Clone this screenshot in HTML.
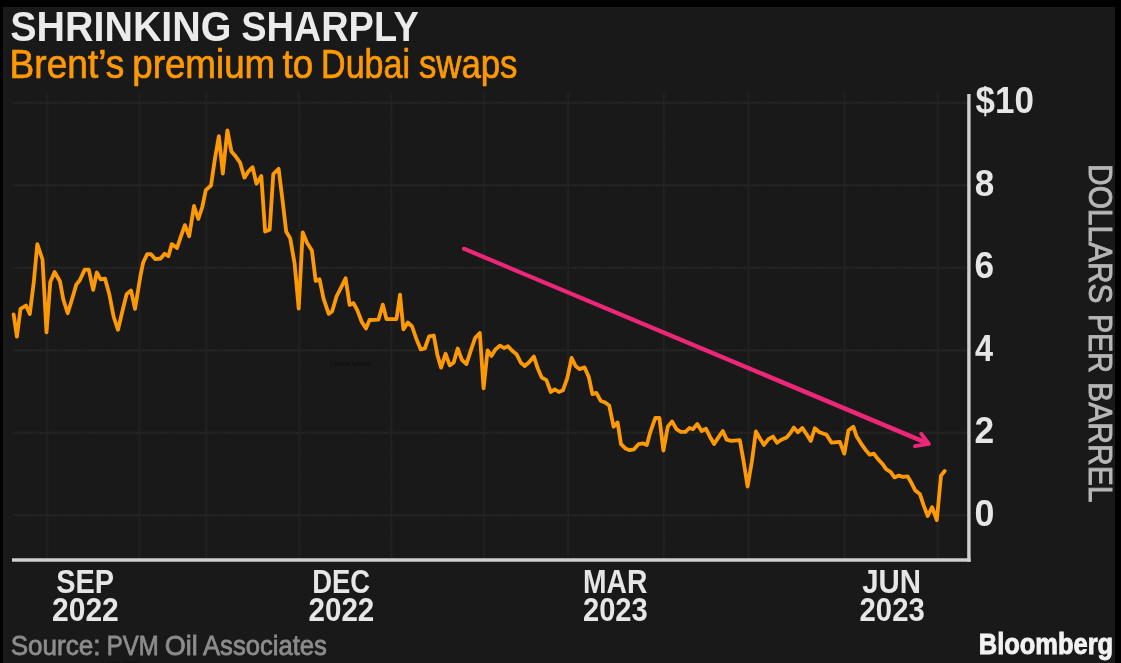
<!DOCTYPE html>
<html lang="en">
<head>
<meta charset="utf-8">
<title>Shrinking Sharply</title>
<style>
html,body{margin:0;padding:0;background:#000;}
body{width:1121px;height:663px;overflow:hidden;position:relative;}
svg{display:block;position:absolute;left:0;top:0;}
text{font-family:"Liberation Sans",sans-serif;}
.gd .v{stroke:#232323;}
.gd .h{stroke:#282828;}
</style>
</head>
<body>
<svg width="1121" height="663" viewBox="0 0 1121 663">
<g>
<rect x="0" y="0" width="1121" height="663" fill="#000"/>
<rect x="3" y="7" width="1112" height="656" fill="#191919"/>
<g fill="none" stroke="#1e1e1e" stroke-width="3">
<line class="v" x1="47" y1="92.5" x2="47" y2="559"/>
<line class="v" x1="139.3" y1="92.5" x2="139.3" y2="559"/>
<line class="v" x1="206.3" y1="92.5" x2="206.3" y2="559"/>
<line class="v" x1="299.2" y1="92.5" x2="299.2" y2="559"/>
<line class="v" x1="391.3" y1="92.5" x2="391.3" y2="559"/>
<line class="v" x1="484" y1="92.5" x2="484" y2="559"/>
<line class="v" x1="568" y1="92.5" x2="568" y2="559"/>
<line class="v" x1="663.8" y1="92.5" x2="663.8" y2="559"/>
<line class="v" x1="748.5" y1="92.5" x2="748.5" y2="559"/>
<line class="v" x1="844.5" y1="92.5" x2="844.5" y2="559"/>
<line class="v" x1="937.7" y1="92.5" x2="937.7" y2="559"/>
<line class="h" x1="13" y1="515.3" x2="968" y2="515.3"/>
<line class="h" x1="13" y1="432.8" x2="968" y2="432.8"/>
<line class="h" x1="13" y1="350.3" x2="968" y2="350.3"/>
<line class="h" x1="13" y1="267.8" x2="968" y2="267.8"/>
<line class="h" x1="13" y1="185.3" x2="968" y2="185.3"/>
<line class="h" x1="13" y1="102.8" x2="968" y2="102.8"/>
</g>
<g fill="none" stroke-width="1.3" stroke-dasharray="2.2 1.2" class="gd">
<line class="v" x1="47" y1="92.5" x2="47" y2="559"/>
<line class="v" x1="139.3" y1="92.5" x2="139.3" y2="559"/>
<line class="v" x1="206.3" y1="92.5" x2="206.3" y2="559"/>
<line class="v" x1="299.2" y1="92.5" x2="299.2" y2="559"/>
<line class="v" x1="391.3" y1="92.5" x2="391.3" y2="559"/>
<line class="v" x1="484" y1="92.5" x2="484" y2="559"/>
<line class="v" x1="568" y1="92.5" x2="568" y2="559"/>
<line class="v" x1="663.8" y1="92.5" x2="663.8" y2="559"/>
<line class="v" x1="748.5" y1="92.5" x2="748.5" y2="559"/>
<line class="v" x1="844.5" y1="92.5" x2="844.5" y2="559"/>
<line class="v" x1="937.7" y1="92.5" x2="937.7" y2="559"/>
<line class="h" x1="13" y1="515.3" x2="968" y2="515.3"/>
<line class="h" x1="13" y1="432.8" x2="968" y2="432.8"/>
<line class="h" x1="13" y1="350.3" x2="968" y2="350.3"/>
<line class="h" x1="13" y1="267.8" x2="968" y2="267.8"/>
<line class="h" x1="13" y1="185.3" x2="968" y2="185.3"/>
<line class="h" x1="13" y1="102.8" x2="968" y2="102.8"/>
</g>
<polyline points="13.6,314.3 16.9,336.7 20.5,308.9 26.0,305.5 29.8,314.1 33.8,282.0 37.3,244.2 42.5,259.5 46.5,332.4 50.3,282.0 54.6,272.0 59.9,281.2 63.3,299.4 67.7,313.3 72.0,299.4 76.3,284.6 79.8,280.3 84.7,269.6 88.8,269.6 93.2,289.9 96.8,272.5 100.6,279.4 105.0,278.6 109.3,294.2 113.6,316.7 118.0,329.8 122.3,311.5 126.6,294.2 131.0,290.4 135.0,308.9 140.6,275.0 143.2,262.4 147.2,254.2 151.0,254.2 155.4,259.2 160.6,258.5 164.6,253.7 168.4,256.3 171.8,244.1 177.0,248.1 180.9,236.3 184.9,225.1 189.2,236.3 194.0,206.0 198.3,219.0 202.3,207.0 205.8,190.2 211.0,185.5 215.0,158.4 218.9,136.2 222.8,173.6 227.4,130.3 231.4,151.4 235.8,156.6 240.1,162.7 244.4,177.6 248.4,171.4 252.6,167.2 256.5,183.7 261.3,176.0 265.1,231.5 269.7,229.7 273.3,174.0 278.6,168.8 282.5,200.0 286.2,231.5 290.2,238.4 294.6,263.6 298.7,308.7 302.7,232.3 307.0,242.8 311.9,250.6 315.7,280.9 319.5,279.2 323.5,298.3 328.7,313.9 332.2,311.3 336.5,296.5 340.9,287.9 345.6,278.3 349.6,304.9 353.5,303.1 357.4,310.4 361.7,321.7 366.0,328.6 369.5,320.0 378.5,319.6 382.8,304.6 386.5,319.1 396.5,319.0 400.0,294.7 403.4,329.4 407.8,322.5 412.1,326.5 416.4,339.0 420.8,349.4 424.8,348.5 429.1,336.4 433.8,335.5 437.3,354.6 441.1,367.6 445.6,353.7 449.7,365.4 453.7,362.4 457.7,348.5 461.9,359.8 466.4,364.1 470.6,351.1 475.1,338.1 479.8,332.9 483.6,388.4 487.6,350.3 491.4,356.0 495.4,349.4 500.1,345.6 504.0,348.0 508.0,346.3 512.2,350.8 516.5,354.2 520.8,362.6 524.7,366.0 529.1,362.2 533.9,356.5 537.8,368.6 541.6,377.3 546.4,380.2 550.8,392.0 554.8,389.4 558.9,392.0 562.9,390.3 567.3,378.2 571.6,357.9 575.6,366.0 579.4,369.1 584.6,367.4 588.9,377.3 592.4,394.1 596.4,392.9 600.6,400.7 605.1,402.5 609.2,405.6 613.6,426.7 617.6,422.4 621.0,444.1 625.4,448.4 629.7,450.2 634.0,449.3 638.7,444.1 643.2,443.4 646.8,445.0 650.4,431.8 655.3,418.0 659.4,418.0 663.4,450.6 667.8,426.6 672.1,421.4 676.4,429.2 680.8,431.8 685.5,431.8 689.4,428.0 692.9,429.2 697.3,424.0 701.6,431.0 705.9,428.7 709.7,436.2 714.1,444.0 718.1,437.9 722.8,431.0 726.7,439.6 731.1,440.9 739.8,440.2 743.6,461.3 747.6,486.5 751.9,461.3 755.9,431.5 760.1,438.8 764.0,444.9 768.4,439.2 773.0,436.6 777.0,442.8 781.3,439.8 786.5,437.5 790.0,433.5 793.9,427.6 797.8,432.3 802.4,428.0 806.4,434.0 810.8,441.0 814.8,428.3 819.4,432.3 826.4,434.6 831.6,442.7 839.9,441.8 844.3,453.6 848.4,430.6 853.3,426.7 856.7,436.6 861.1,443.6 865.4,449.7 869.8,454.7 873.8,453.6 878.0,459.1 882.3,463.7 886.1,469.2 890.5,471.8 894.5,477.4 898.8,475.6 903.0,476.9 907.5,476.3 911.4,482.8 915.1,490.2 920.0,494.3 923.6,505.2 927.7,516.0 932.1,507.2 936.8,520.1 941.0,475.6 944.7,471.0" fill="none" stroke="#fd9905" stroke-width="3.8" stroke-linejoin="round" stroke-linecap="round"/>
<g fill="#ec2778" stroke="none">
<polygon points="463.1,250.6 927.4,445.8 929.2,441.4 464.7,246.8"/>
<circle cx="463.9" cy="248.7" r="2.05"/>
</g>
<polyline points="921.2,433.8 928.9,443.9 915,446.2" fill="none" stroke="#ec2778" stroke-width="3.9" stroke-linecap="round" stroke-linejoin="round"/>
<g stroke="#cfcfcf" stroke-width="3.4" fill="none">
<line x1="12" y1="560" x2="970.6" y2="560"/>
<line x1="968.9" y1="94" x2="968.9" y2="561.7"/>
</g>
<g>
<text font-size="43.2" fill="#ebebeb" font-weight="bold"><tspan x="10.19" y="41.2" textLength="221.30" lengthAdjust="spacingAndGlyphs">SHRINKING</tspan> <tspan x="241.18" y="41.2" textLength="177.71" lengthAdjust="spacingAndGlyphs">SHARPLY</tspan></text>
<text font-size="39.8" fill="#fd9905" stroke="#fd9905" stroke-width="0.7"><tspan x="9.57" y="77.7" textLength="114.75" lengthAdjust="spacingAndGlyphs">Brent’s</tspan> <tspan x="132.25" y="77.7" textLength="142.95" lengthAdjust="spacingAndGlyphs">premium</tspan> <tspan x="282.57" y="77.7" textLength="30.58" lengthAdjust="spacingAndGlyphs">to</tspan> <tspan x="321.06" y="77.7" textLength="89.00" lengthAdjust="spacingAndGlyphs">Dubai</tspan> <tspan x="418.92" y="77.7" textLength="98.56" lengthAdjust="spacingAndGlyphs">swaps</tspan></text>
<text font-size="36.4" fill="#e6e6e6" font-weight="bold"><tspan x="975.54" y="113.0" textLength="58.32" lengthAdjust="spacingAndGlyphs">$10</tspan></text>
<text font-size="36.4" fill="#e6e6e6" font-weight="bold"><tspan x="974.72" y="195.5" textLength="19.54" lengthAdjust="spacingAndGlyphs">8</tspan></text>
<text font-size="36.4" fill="#e6e6e6" font-weight="bold"><tspan x="974.55" y="278.0" textLength="19.63" lengthAdjust="spacingAndGlyphs">6</tspan></text>
<text font-size="36.4" fill="#e6e6e6" font-weight="bold"><tspan x="974.91" y="360.5" textLength="18.08" lengthAdjust="spacingAndGlyphs">4</tspan></text>
<text font-size="36.4" fill="#e6e6e6" font-weight="bold"><tspan x="974.47" y="443.0" textLength="19.65" lengthAdjust="spacingAndGlyphs">2</tspan></text>
<text font-size="36.4" fill="#e6e6e6" font-weight="bold"><tspan x="974.52" y="525.5" textLength="19.89" lengthAdjust="spacingAndGlyphs">0</tspan></text>
<text font-size="32.6" fill="#e6e6e6" font-weight="bold"><tspan x="56.18" y="592.9" textLength="57.36" lengthAdjust="spacingAndGlyphs">SEP</tspan> <tspan x="51.98" y="620.8" textLength="66.83" lengthAdjust="spacingAndGlyphs">2022</tspan></text>
<text font-size="32.6" fill="#e6e6e6" font-weight="bold"><tspan x="312.19" y="592.9" textLength="57.91" lengthAdjust="spacingAndGlyphs">DEC</tspan> <tspan x="308.51" y="620.8" textLength="65.80" lengthAdjust="spacingAndGlyphs">2022</tspan></text>
<text font-size="32.6" fill="#e6e6e6" font-weight="bold"><tspan x="582.98" y="592.9" textLength="64.32" lengthAdjust="spacingAndGlyphs">MAR</tspan> <tspan x="582.96" y="620.8" textLength="64.80" lengthAdjust="spacingAndGlyphs">2023</tspan></text>
<text font-size="32.6" fill="#e6e6e6" font-weight="bold"><tspan x="862.23" y="592.9" textLength="58.91" lengthAdjust="spacingAndGlyphs">JUN</tspan> <tspan x="859.54" y="620.8" textLength="65.21" lengthAdjust="spacingAndGlyphs">2023</tspan></text>
<text font-size="28" fill="#8c8c8c" stroke="#8c8c8c" stroke-width="0.8"><tspan x="10.67" y="654.5" textLength="89.88" lengthAdjust="spacingAndGlyphs">Source:</tspan> <tspan x="106.79" y="654.5" textLength="51.95" lengthAdjust="spacingAndGlyphs">PVM</tspan> <tspan x="164.77" y="654.5" textLength="32.97" lengthAdjust="spacingAndGlyphs">Oil</tspan> <tspan x="203.00" y="654.5" textLength="123.92" lengthAdjust="spacingAndGlyphs">Associates</tspan></text>
<text font-size="28.6" fill="#f2f2f2" stroke="#f2f2f2" stroke-width="0.9" font-weight="bold"><tspan x="978.83" y="653.8" textLength="134.29" lengthAdjust="spacingAndGlyphs">Bloomberg</tspan></text>
<text transform="translate(1088.8,0) rotate(90)" font-size="33.8" fill="#b6b6b6" stroke="#b6b6b6" stroke-width="0.9"><tspan x="164.11" y="0" textLength="139.27" lengthAdjust="spacingAndGlyphs">DOLLARS</tspan> <tspan x="313.90" y="0" textLength="59.00" lengthAdjust="spacingAndGlyphs">PER</tspan> <tspan x="382.12" y="0" textLength="120.30" lengthAdjust="spacingAndGlyphs">BARREL</tspan></text>
</g>
<g font-size="7.6" font-weight="bold" fill="#101010">
<text x="330.4" y="365.7" textLength="40.4" lengthAdjust="spacingAndGlyphs">Lorem ipsum</text>
<text x="102" y="664.8" textLength="38.2" lengthAdjust="spacingAndGlyphs">Lorem ipsum</text>
</g>
</g>
</svg>
</body>
</html>
